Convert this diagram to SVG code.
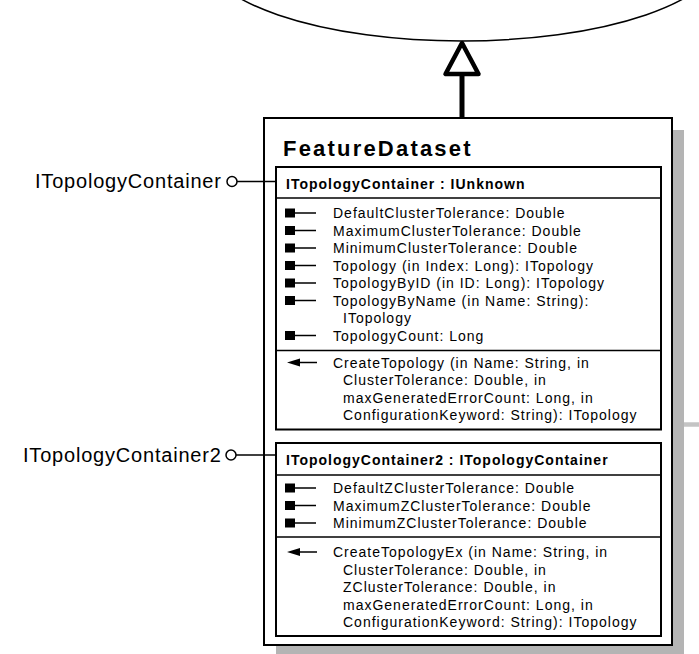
<svg xmlns="http://www.w3.org/2000/svg" width="699" height="654" viewBox="0 0 699 654">
<style>
.t{font-family:"Liberation Sans",Arial,sans-serif;font-size:14px;letter-spacing:1px;fill:#000}
.h{font-family:"Liberation Sans",Arial,sans-serif;font-size:14px;font-weight:bold;letter-spacing:1px;fill:#000}
.ti{font-family:"Liberation Sans",Arial,sans-serif;font-size:22px;font-weight:bold;letter-spacing:2.2px;fill:#000}
.lb{font-family:"Liberation Sans",Arial,sans-serif;font-size:20px;letter-spacing:0.8px;fill:#000}
.box{fill:#fff;stroke:#000;stroke-width:2}
.div{stroke:#000;stroke-width:1.5;fill:none}
.ln{stroke:#000;stroke-width:1.5;fill:none}
.sq{fill:#000}
</style>
<defs>
<g id="attr"><rect x="285" y="-9.5" width="10" height="9" class="sq"/><line x1="295" y1="-5" x2="316" y2="-5" class="ln"/></g>
<g id="meth"><polygon points="287,-5 300,-9 300,-1" class="sq"/><line x1="299" y1="-5" x2="317" y2="-5" class="ln"/></g>
</defs>

<g id="parent">
<ellipse cx="462" cy="-48" rx="260" ry="89" fill="#fff" stroke="#000" stroke-width="1.5"/>
</g>

<g id="connectors">
<line x1="462" y1="74" x2="462" y2="118" stroke="#000" stroke-width="5"/>
<polygon points="462,43 445.5,74 478.5,74" fill="#fff" stroke="#000" stroke-width="4.5" stroke-linejoin="round"/>
<line x1="684" y1="424.5" x2="699" y2="424.5" stroke="#c4c4c4" stroke-width="4.5"/>
<line x1="237" y1="181.5" x2="276" y2="181.5" class="ln"/>
<line x1="236" y1="455" x2="276" y2="455" class="ln"/>
</g>

<g id="FeatureDataset">
<rect x="276" y="130" width="408" height="527" fill="#b4b4b4"/>
<rect x="264" y="118" width="408" height="527" class="box"/>
<line x1="264" y1="181.5" x2="276" y2="181.5" class="ln"/>
<line x1="264" y1="455" x2="276" y2="455" class="ln"/>
<text x="283" y="156" class="ti">FeatureDataset</text>

<g id="ITopologyContainer">
<rect x="276" y="167" width="385" height="262.5" class="box"/>
<line x1="276" y1="198" x2="661" y2="198" class="div"/>
<line x1="276" y1="350.5" x2="661" y2="350.5" class="div"/>
<text x="286" y="189" class="h">ITopologyContainer : IUnknown</text>
<use href="#attr" y="218"/><text x="333" y="218" class="t">DefaultClusterTolerance: Double</text>
<use href="#attr" y="235.5"/><text x="333" y="235.5" class="t">MaximumClusterTolerance: Double</text>
<use href="#attr" y="253"/><text x="333" y="253" class="t">MinimumClusterTolerance: Double</text>
<use href="#attr" y="270.5"/><text x="333" y="270.5" class="t">Topology (in Index: Long): ITopology</text>
<use href="#attr" y="288"/><text x="333" y="288" class="t">TopologyByID (in ID: Long): ITopology</text>
<use href="#attr" y="305.5"/><text x="333" y="305.5" class="t">TopologyByName (in Name: String):</text>
<text x="343" y="323" class="t">ITopology</text>
<use href="#attr" y="340.5"/><text x="333" y="340.5" class="t">TopologyCount: Long</text>
<use href="#meth" y="367.5"/><text x="333" y="367.5" class="t">CreateTopology (in Name: String, in</text>
<text x="343" y="385" class="t">ClusterTolerance: Double, in</text>
<text x="343" y="402.5" class="t">maxGeneratedErrorCount: Long, in</text>
<text x="343" y="420" class="t">ConfigurationKeyword: String): ITopology</text>
</g>

<g id="ITopologyContainer2">
<rect x="276" y="443" width="385" height="193" class="box"/>
<line x1="276" y1="475" x2="661" y2="475" class="div"/>
<line x1="276" y1="537" x2="661" y2="537" class="div"/>
<text x="286" y="465" class="h">ITopologyContainer2 : ITopologyContainer</text>
<use href="#attr" y="493"/><text x="333" y="493" class="t">DefaultZClusterTolerance: Double</text>
<use href="#attr" y="510.5"/><text x="333" y="510.5" class="t">MaximumZClusterTolerance: Double</text>
<use href="#attr" y="528"/><text x="333" y="528" class="t">MinimumZClusterTolerance: Double</text>
<use href="#meth" y="557"/><text x="333" y="557" class="t">CreateTopologyEx (in Name: String, in</text>
<text x="343" y="574.5" class="t">ClusterTolerance: Double, in</text>
<text x="343" y="592" class="t">ZClusterTolerance: Double, in</text>
<text x="343" y="609.5" class="t">maxGeneratedErrorCount: Long, in</text>
<text x="343" y="627" class="t">ConfigurationKeyword: String): ITopology</text>
</g>
</g>

<g id="lollipop1">
<circle cx="232" cy="181.5" r="5" fill="#fff" stroke="#000" stroke-width="1.5"/>
<text x="35" y="188" class="lb">ITopologyContainer</text>
</g>
<g id="lollipop2">
<circle cx="231" cy="455" r="5" fill="#fff" stroke="#000" stroke-width="1.5"/>
<text x="23" y="462" class="lb">ITopologyContainer2</text>
</g>
</svg>
